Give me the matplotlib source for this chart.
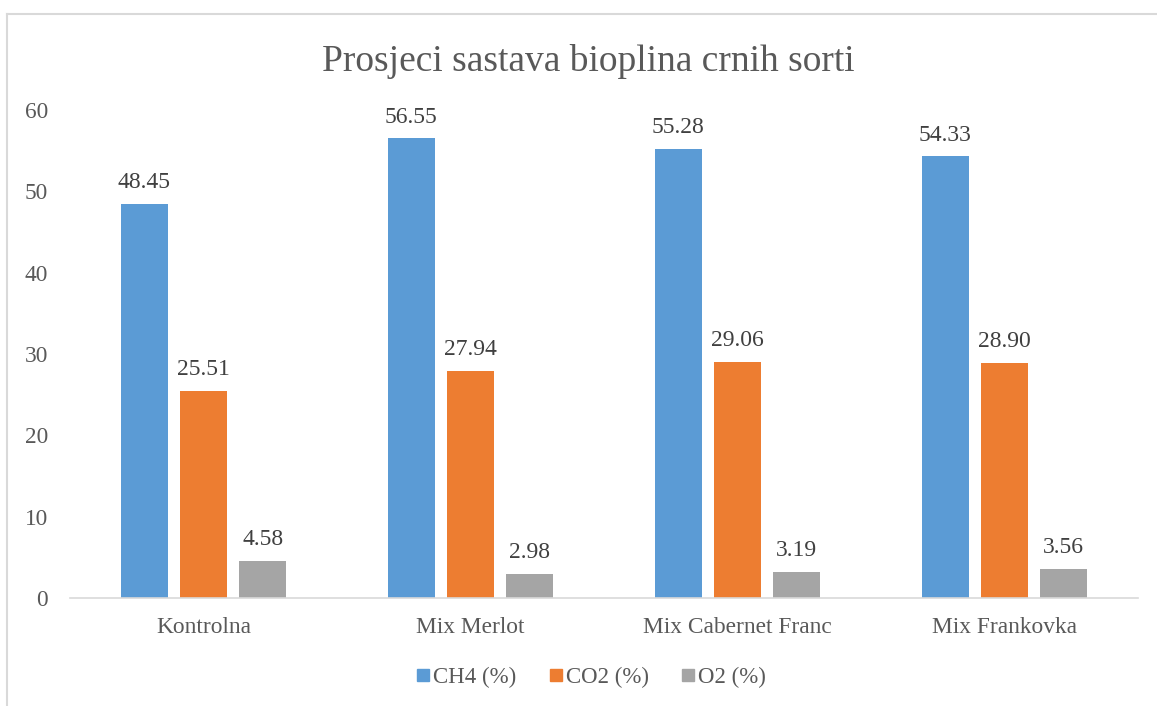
import numpy as np
import matplotlib.pyplot as plt
from matplotlib.lines import Line2D

categories = ["Kontrolna", "Mix Merlot", "Mix Cabernet Franc", "Mix Frankovka"]
ch4 = [48.45, 56.55, 55.28, 54.33]
co2 = [25.51, 27.94, 29.06, 28.90]
o2 = [4.58, 2.98, 3.19, 3.56]
series_names = ["CH4 (%)", "CO2 (%)", "O2 (%)"]
yticks = [0, 10, 20, 30, 40, 50, 60]

plt.rcParams["font.family"] = ["Liberation Serif", "DejaVu Serif"]
text_col = "#595959"
colors = ["#5B9BD5", "#ED7D31", "#A5A5A5"]

fig = plt.figure(figsize=(11.57, 7.06), dpi=100)
ax = fig.add_axes([0.0605, 0.153, 0.923, 0.691])

x = np.arange(len(categories))
width = 0.176
step = 0.222
for i, (vals, col) in enumerate(zip([ch4, co2, o2], colors)):
    pos = x + (i - 1) * step
    bars = ax.bar(pos, vals, width, color=col, zorder=2)
    for b, v in zip(bars, vals):
        ax.text(b.get_x() + b.get_width() / 2, v + 1.3, f"{v:.2f}",
                ha="center", va="bottom", fontsize=17, color="#404040",
                clip_on=False)

ax.set_xlim(-0.5, len(categories) - 0.5)
ax.set_ylim(0, 60)
ax.set_yticks(yticks)
ax.set_xticks(x)
ax.set_xticklabels(categories)
ax.tick_params(axis="both", length=0, labelsize=16.8, labelcolor=text_col)
ax.tick_params(axis="y", pad=16)
ax.tick_params(axis="x", pad=14)
for s in ["top", "right", "left"]:
    ax.spines[s].set_visible(False)
ax.spines["bottom"].set_color("#D9D9D9")
ax.spines["bottom"].set_linewidth(1.2)

fig.text(0.5086, 0.913, "Prosjeci sastava bioplina crnih sorti", ha="center",
         va="center", fontsize=27, color=text_col)

handles = [Line2D([], [], marker="s", linestyle="none", markersize=9,
                  markerfacecolor=c, markeredgecolor=c) for c in colors]
fig.legend(handles, series_names, loc="center", bbox_to_anchor=(0.51, 0.041),
           ncol=3, frameon=False, fontsize=16.5, labelcolor=text_col,
           handletextpad=0.05, columnspacing=1.3, handlelength=0.8)

# chart border (top and left only visible)
fig.add_artist(Line2D([0.006, 0.006], [0, 0.98], transform=fig.transFigure,
                      color="#D9D9D9", linewidth=1.5))
fig.add_artist(Line2D([0.006, 1.0], [0.98, 0.98], transform=fig.transFigure,
                      color="#D9D9D9", linewidth=1.5))

fig.savefig("out.png", dpi=100)
